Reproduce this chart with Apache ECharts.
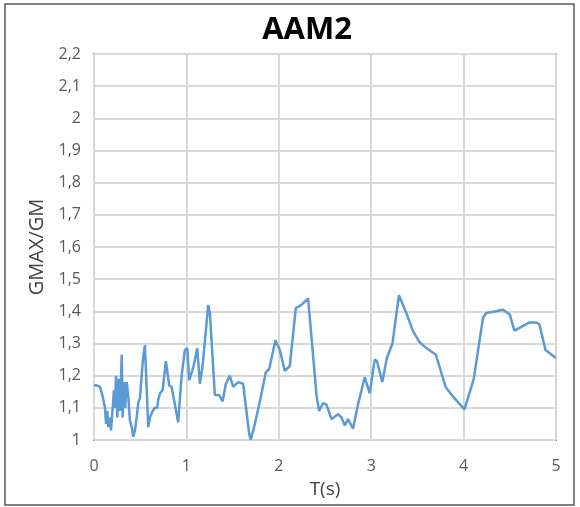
<!DOCTYPE html>
<html>
<head>
<meta charset="utf-8">
<script src="https://cdn.jsdelivr.net/npm/echarts@6/dist/echarts.min.js"></script>
<style>
  html, body { margin: 0; padding: 0; background: #fff; }
  #chart { width: 580px; height: 507px; }
</style>
</head>
<body>
<div id="chart"></div>
<script>
// Period T (s) of each sample
const periods = [
  0, 0.03, 0.065, 0.094, 0.119, 0.13, 0.144, 0.155, 0.173, 0.184, 0.202, 0.216, 0.227,
  0.238, 0.252, 0.267, 0.281, 0.30, 0.31, 0.324, 0.338, 0.354, 0.371, 0.389, 0.408,
  0.425, 0.443, 0.462, 0.479, 0.497, 0.516, 0.533, 0.551, 0.587, 0.605, 0.635, 0.659,
  0.684, 0.695, 0.714, 0.743, 0.778, 0.814, 0.84, 0.911, 0.948, 0.984, 1.01, 1.03,
  1.074, 1.117, 1.146, 1.175, 1.236, 1.254, 1.308, 1.355, 1.391, 1.427, 1.47, 1.506,
  1.56, 1.614, 1.679, 1.697, 1.741, 1.795, 1.859, 1.895, 1.964, 2.011, 2.065, 2.119,
  2.184, 2.245, 2.317, 2.408, 2.436, 2.479, 2.516, 2.57, 2.641, 2.678, 2.714, 2.749,
  2.803, 2.857, 2.93, 2.984, 3.038, 3.063, 3.12, 3.17, 3.23, 3.30, 3.38, 3.45, 3.52,
  3.60, 3.70, 3.805, 3.90, 4.01, 4.11, 4.21, 4.245, 4.35, 4.425, 4.50, 4.55, 4.71,
  4.785, 4.82, 4.886, 5.0
];

// GMAX/GM ratio at each period
const ratios = [
  1.17, 1.17, 1.165, 1.135, 1.10, 1.05, 1.09, 1.04, 1.07, 1.03, 1.10, 1.155, 1.10,
  1.20, 1.07, 1.19, 1.09, 1.265, 1.07, 1.18, 1.10, 1.18, 1.135, 1.06, 1.04,
  1.01, 1.03, 1.07, 1.115, 1.13, 1.20, 1.26, 1.295, 1.04, 1.07, 1.09, 1.10,
  1.10, 1.125, 1.145, 1.155, 1.245, 1.17, 1.165, 1.055, 1.20, 1.28, 1.285, 1.185,
  1.225, 1.285, 1.175, 1.23, 1.42, 1.395, 1.14, 1.14, 1.12, 1.175, 1.20, 1.165,
  1.18, 1.175, 1.02, 1.0, 1.05, 1.12, 1.21, 1.22, 1.31, 1.28, 1.215, 1.23,
  1.41, 1.42, 1.44, 1.14, 1.09, 1.115, 1.11, 1.065, 1.08, 1.07, 1.045, 1.065,
  1.035, 1.11, 1.195, 1.145, 1.25, 1.245, 1.18, 1.255, 1.30, 1.45, 1.395, 1.34, 1.305,
  1.285, 1.265, 1.165, 1.13, 1.095, 1.19, 1.38, 1.395, 1.40, 1.405, 1.39, 1.34, 1.365,
  1.365, 1.36, 1.28, 1.255
];

const yMin = 1, yMax = 2.2, yStep = 0.1;
const xMin = 0, xMax = 5, xStep = 1;

const fmtComma = v => String(Number(v.toFixed(1))).replace('.', ',');
const fontFamily = '"Open Sans", "Liberation Sans", sans-serif';

const chart = echarts.init(document.getElementById('chart'), null, { renderer: 'canvas' });
chart.setOption({
  animation: false,
  backgroundColor: '#ffffff',
  title: {
    text: 'AAM2',
    left: 302,
    top: 10,
    textAlign: 'center',
    textStyle: { fontFamily, fontSize: 31, fontWeight: 'bold', color: '#000' }
  },
  grid: {
    left: 94, right: 24, top: 54, bottom: 67,
    show: true, borderColor: '#1a1a1a', borderWidth: 1.5, backgroundColor: 'transparent'
  },
  xAxis: {
    type: 'value',
    min: xMin, max: xMax, interval: xStep,
    name: 'T(s)',
    nameLocation: 'middle',
    nameGap: 40,
    nameTextStyle: { fontFamily, fontSize: 19, color: '#404040' },
    axisLine: { show: false },
    axisTick: { show: false },
    axisLabel: { fontFamily, fontSize: 16, color: '#595959', margin: 18 },
    splitLine: { show: true, lineStyle: { color: '#d9d9d9', width: 2 } }
  },
  yAxis: {
    type: 'value',
    min: yMin, max: yMax, interval: yStep,
    name: 'GMAX/GM',
    nameLocation: 'middle',
    nameGap: 46,
    nameTextStyle: { fontFamily, fontSize: 20, color: '#404040' },
    axisLine: { show: false },
    axisTick: { show: false },
    axisLabel: { fontFamily, fontSize: 16, color: '#595959', margin: 13, formatter: fmtComma },
    splitLine: { show: true, lineStyle: { color: '#d9d9d9', width: 2 } }
  },
  series: [{
    type: 'line',
    data: periods.map((t, i) => [t, ratios[i]]),
    showSymbol: false,
    symbol: 'none',
    lineStyle: { color: '#5b9bd5', width: 2.5 },
    z: 3
  }],
  graphic: [{
    type: 'rect',
    shape: { x: 5, y: 4, width: 569, height: 501 },
    style: { fill: 'none', stroke: '#595959', lineWidth: 1.5 },
    silent: true
  }]
});
</script>
</body>
</html>
